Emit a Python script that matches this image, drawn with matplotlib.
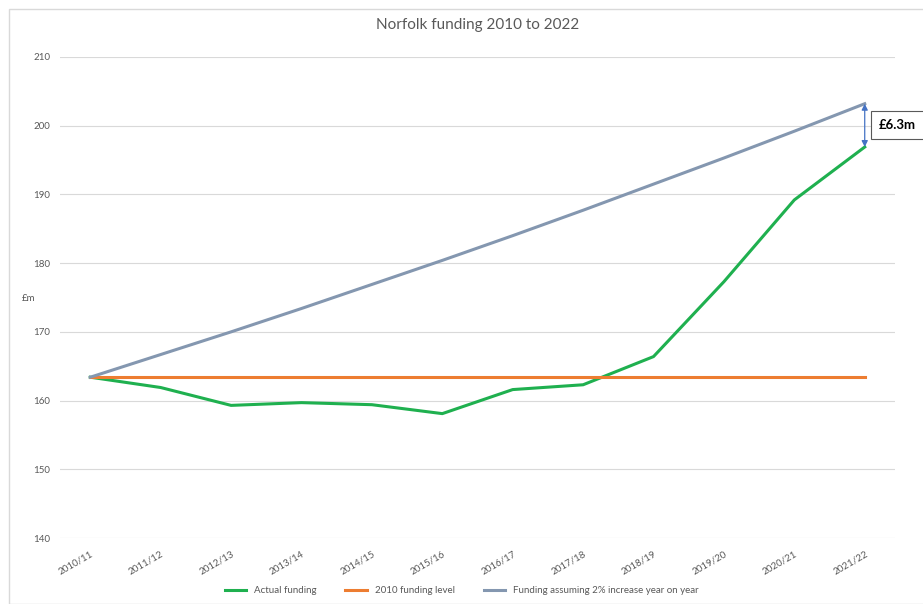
import matplotlib.pyplot as plt
from matplotlib.patches import Rectangle

plt.rcParams['font.family'] = ['Lato', 'DejaVu Sans']

years = ["2010/11", "2011/12", "2012/13", "2013/14", "2014/15", "2015/16",
         "2016/17", "2017/18", "2018/19", "2019/20", "2020/21", "2021/22"]
actual = [163.4, 161.9, 159.3, 159.7, 159.4, 158.1, 161.6, 162.3, 166.4, 177.3, 189.2, 196.9]
level_2010 = [163.4] * 12
two_pct = [163.4, 166.7, 170.0, 173.4, 176.9, 180.4, 184.0, 187.7, 191.5, 195.3, 199.2, 203.2]
yticks = [140, 150, 160, 170, 180, 190, 200, 210]

fig = plt.figure(figsize=(9.23, 6.04), dpi=100)
ax = fig.add_axes([60 / 923, 1 - 538 / 604, 835 / 923, 481 / 604])

# chart border
fig.patches.append(Rectangle((9 / 923, 0), 1, 1 - 9 / 604, transform=fig.transFigure,
                             fill=False, edgecolor='#d9d9d9', linewidth=1))

x = list(range(len(years)))
ax.plot(x, actual, color='#1fb04f', linewidth=2.2, label='Actual funding')
ax.plot(x, level_2010, color='#ed7d31', linewidth=2.2, label='2010 funding level')
ax.plot(x, two_pct, color='#8497b0', linewidth=2.2,
        label='Funding assuming 2% increase year on year')

ax.set_xlim(-0.43, 11.43)
ax.set_ylim(140, 210)
ax.set_yticks(yticks)
ax.set_xticks(x)
ax.set_xticklabels(years, rotation=30, ha='right', rotation_mode='anchor')
ax.tick_params(axis='both', length=0, colors='#595959', labelsize=7)
ax.tick_params(axis='y', pad=7)
ax.tick_params(axis='x', pad=8)
ax.grid(axis='y', color='#d9d9d9', linewidth=0.8)
ax.set_axisbelow(True)
for s in ax.spines.values():
    s.set_visible(False)

ax.set_title('Norfolk funding 2010 to 2022', fontsize=11, color='#595959', pad=20)
fig.text(22 / 923, 1 - 299 / 604, '£m', fontsize=7, color='#595959', va='center')

# gap annotation
ax.annotate('', xy=(11, two_pct[-1]), xytext=(11, actual[-1]),
            arrowprops=dict(arrowstyle='<|-|>', color='#4472c4', lw=0.9,
                            mutation_scale=9, shrinkA=0, shrinkB=0))
ax.text(11.2, 200.1, '£6.3m', fontsize=9.5, fontweight='bold', color='black', va='center', ha='left',
        bbox=dict(boxstyle='square,pad=0.6', facecolor='white', edgecolor='#595959', linewidth=0.8))

fig.legend(loc='lower center', bbox_to_anchor=(0.5, 0.0), ncol=3, frameon=False,
           fontsize=7, labelcolor='#595959', handlelength=2.2, columnspacing=3)

fig.savefig('out.png', dpi=100)
